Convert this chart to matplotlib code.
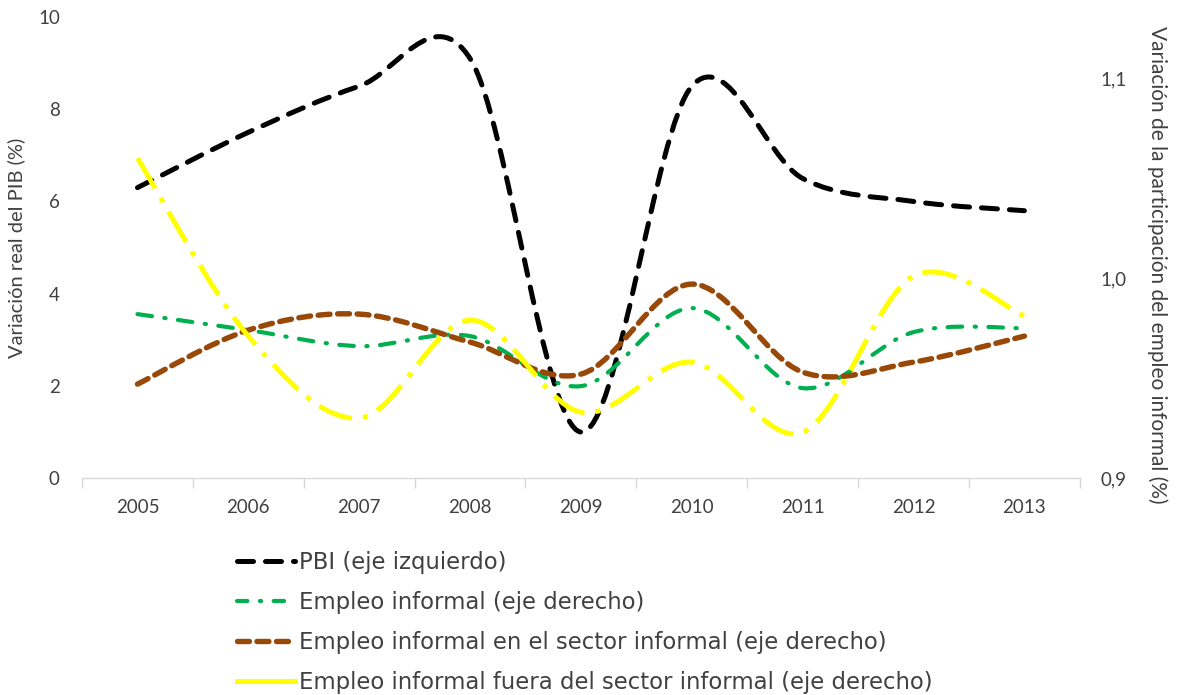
import numpy as np
import matplotlib
matplotlib.use("Agg")
import matplotlib.pyplot as plt
from matplotlib.path import Path
from matplotlib.patches import PathPatch
from matplotlib.lines import Line2D

# -------------------------------------------------------
# Data
# -------------------------------------------------------
years = ["2005", "2006", "2007", "2008", "2009", "2010", "2011", "2012", "2013"]
pbi = [6.3, 7.5, 8.5, 9.1, 1.0, 8.5, 6.5, 6.0, 5.8]
empleo_inf = [0.982, 0.974, 0.966, 0.971, 0.946, 0.985, 0.945, 0.973, 0.975]
empleo_sector = [0.947, 0.974, 0.982, 0.968, 0.952, 0.997, 0.953, 0.958, 0.971]
empleo_fuera = [1.060, 0.971, 0.930, 0.979, 0.933, 0.958, 0.923, 1.001, 0.981]

labels = [
    "PBI (eje izquierdo)",
    "Empleo informal (eje derecho)",
    "Empleo informal en el sector informal (eje derecho)",
    "Empleo informal fuera del sector informal (eje derecho)",
]

BLACK = "#000000"
GREEN = "#00B050"
BROWN = "#984807"
YELLOW = "#FFFF00"
TXT = "#404040"

plt.rcParams["font.family"] = ["Lato", "DejaVu Sans"]


def smooth_path(xs, ys):
    """Excel-like smoothed line: Catmull-Rom segments as cubic Bezier."""
    pts = np.column_stack([xs, ys]).astype(float)
    n = len(pts)
    verts = [pts[0]]
    codes = [Path.MOVETO]
    for i in range(n - 1):
        p0 = pts[max(i - 1, 0)]
        p1 = pts[i]
        p2 = pts[i + 1]
        p3 = pts[min(i + 2, n - 1)]
        c1 = p1 + (p2 - p0) / 6.0
        c2 = p2 - (p3 - p1) / 6.0
        verts += [c1, c2, p2]
        codes += [Path.CURVE4] * 3
    return Path(verts, codes)


def draw_series(ax, ys, color, lw, dashes, cap):
    x = np.arange(len(ys))
    patch = PathPatch(smooth_path(x, ys), facecolor="none", edgecolor=color,
                      linewidth=lw, linestyle=(0, dashes), capstyle=cap,
                      joinstyle="round")
    ax.add_patch(patch)


fig = plt.figure(figsize=(11.84, 6.95), dpi=100)
ax = fig.add_axes([0.0693, 0.312, 0.8427, 0.6635])
ax2 = ax.twinx()

# left axis: PBI
draw_series(ax, pbi, BLACK, 3.6, (3.2, 2.4), "round")
# right axis series
draw_series(ax2, empleo_inf, GREEN, 3.0, (3.5, 3.0, 0.3, 3.0), "round")
draw_series(ax2, empleo_sector, BROWN, 3.9, (2.2, 1.4), "round")
draw_series(ax2, empleo_fuera, YELLOW, 3.6, (7.0, 2.2, 1.0, 2.2), "butt")

ax.set_xlim(-0.5, len(years) - 0.5)
ax.set_ylim(0, 10)
ax2.set_ylim(0.9, 1.1305)

ax.set_xticks(range(len(years)))
ax.set_xticklabels(years)
ax.set_xticks(np.arange(-0.5, len(years), 1.0), minor=True)
ax.tick_params(axis="x", which="major", length=0, pad=15, labelsize=13.5, labelcolor=TXT)
ax.tick_params(axis="x", which="minor", length=7, width=1, color="#d9d9d9", direction="out")

ax.set_yticks([0, 2, 4, 6, 8, 10])
ax.tick_params(axis="y", length=0, pad=16, labelsize=13.5, labelcolor=TXT)
ax2.set_yticks([0.9, 1.0, 1.1])
ax2.set_yticklabels(["0,9", "1,0", "1,1"])
ax2.tick_params(axis="y", length=0, pad=15, labelsize=13.5, labelcolor=TXT)

for a in (ax, ax2):
    for s in ("top", "left", "right", "bottom"):
        a.spines[s].set_visible(False)
ax.spines["bottom"].set_visible(True)
ax.spines["bottom"].set_color("#d9d9d9")
ax.spines["bottom"].set_linewidth(1)

ax.set_ylabel("Variación real del PIB (%)", fontsize=14.5, color=TXT)
ax.yaxis.set_label_coords(-0.057, 0.5)
ax2.set_ylabel("Variación de la participación del empleo informal (%)",
               fontsize=15, color=TXT, rotation=-90, va="center")
ax2.yaxis.set_label_coords(1.078, 0.462)

handles = [
    Line2D([0], [0], color=BLACK, lw=3.6, linestyle=(0, (3.2, 2.4)),
           dash_capstyle="round"),
    Line2D([0], [0], color=GREEN, lw=3.0, linestyle=(0, (2.5, 3.0, 0.3, 3.0)),
           dash_capstyle="round"),
    Line2D([0], [0], color=BROWN, lw=3.9, linestyle=(0, (2.2, 1.4)), dash_capstyle="round"),
    Line2D([0], [0], color=YELLOW, lw=3.6),
]
leg = fig.legend(handles, labels, loc="upper left", bbox_to_anchor=(0.2, 0.207),
                 frameon=False, handlelength=2.55, handletextpad=0.2,
                 labelspacing=0.74, borderaxespad=0, borderpad=0,
                 prop={"family": ["DejaVu Sans"], "size": 16.4})
for t in leg.get_texts():
    t.set_color(TXT)

fig.savefig("out.png", dpi=100)
